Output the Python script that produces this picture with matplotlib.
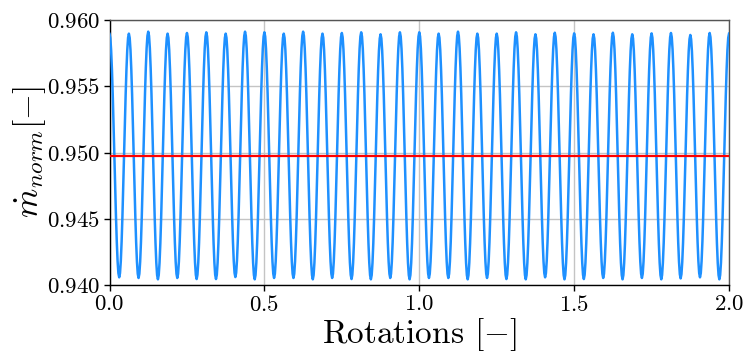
import numpy as np
import matplotlib
matplotlib.use("Agg")
import matplotlib.pyplot as plt

plt.rcParams.update({
    "font.family": "serif",
    "font.serif": ["cmr10", "DejaVu Serif"],
    "mathtext.fontset": "cm",
    "axes.formatter.use_mathtext": True,
    "axes.unicode_minus": False,
})

# ---- data ----
# local maxima (at 0, 1/16, 2/16, ... 2 rotations)
peak_values = [
    0.95895, 0.95897, 0.95912, 0.95897, 0.95902, 0.95907, 0.95897, 0.95912,
    0.95907, 0.95897, 0.95912, 0.95897, 0.95902, 0.95907, 0.95892, 0.95907,
    0.95907, 0.95897, 0.95912, 0.95897, 0.95897, 0.95907, 0.95892, 0.95904,
    0.95899, 0.95892, 0.95904, 0.95892, 0.95899, 0.95902, 0.95887, 0.95902,
    0.95897,
]
# local minima (halfway between consecutive maxima)
trough_values = [
    0.94058, 0.94053, 0.94043, 0.94053, 0.94045, 0.94045, 0.94060, 0.94043,
    0.94053, 0.94053, 0.94043, 0.94053, 0.94045, 0.94043, 0.94053, 0.94043,
    0.94053, 0.94053, 0.94043, 0.94053, 0.94045, 0.94043, 0.94058, 0.94043,
    0.94045, 0.94053, 0.94043, 0.94053, 0.94043, 0.94050, 0.94058, 0.94043,
]
pulses_per_rotation = 16
mean_value = 0.94974

x_ticks = [0.0, 0.5, 1.0, 1.5, 2.0]
y_ticks = [0.940, 0.945, 0.950, 0.955, 0.960]

# ---- build the curve from the extrema ----
n_peaks = len(peak_values)
ext_x, ext_y = [], []
for k in range(n_peaks):
    ext_x.append(k / pulses_per_rotation)
    ext_y.append(peak_values[k])
    if k < len(trough_values):
        ext_x.append((k + 0.5) / pulses_per_rotation)
        ext_y.append(trough_values[k])

xs, ys = [], []
t = np.linspace(0, 1, 12, endpoint=False)
for i in range(len(ext_x) - 1):
    x0, x1 = ext_x[i], ext_x[i + 1]
    y0, y1 = ext_y[i], ext_y[i + 1]
    s = (1 - np.cos(np.pi * t)) / 2
    xs.extend(x0 + (x1 - x0) * t)
    ys.extend(y0 + (y1 - y0) * s)
xs.append(ext_x[-1])
ys.append(ext_y[-1])

# ---- figure ----
fig = plt.figure(figsize=(7.43, 3.52), dpi=100)
ax = fig.add_axes([0.1474, 0.1903, 0.8338, 0.7529])

ax.plot(xs, ys, color="#1E90FF", lw=1.8, zorder=3)
ax.axhline(mean_value, color="red", lw=1.6, zorder=4)

ax.set_xlim(0, 2.0)
ax.set_ylim(0.940, 0.960)
ax.set_xticks(x_ticks)
ax.set_yticks(y_ticks)
ax.set_xticklabels([f"${v:.1f}$" for v in x_ticks])
ax.set_yticklabels([f"${v:.3f}$" for v in y_ticks])
ax.tick_params(labelsize=16.5, direction="out", length=4, width=1,
               color="black", pad=3)
ax.grid(True, color="#c4c4c4", lw=1.0, zorder=0)

for side in ("left", "bottom"):
    ax.spines[side].set_color("black")
    ax.spines[side].set_linewidth(1.0)
for side in ("top", "right"):
    ax.spines[side].set_color("#555555")
    ax.spines[side].set_linewidth(1.0)

ax.set_xlabel(r"Rotations $[-]$", fontsize=24)
ax.xaxis.set_label_coords(0.5, -0.118)
ax.xaxis.label.set_va("top")
ax.set_ylabel(r"$\dot{m}_{norm}[-]$", fontsize=24)
ax.yaxis.set_label_coords(-0.099, 0.5)

fig.savefig("out.png", dpi=100)
